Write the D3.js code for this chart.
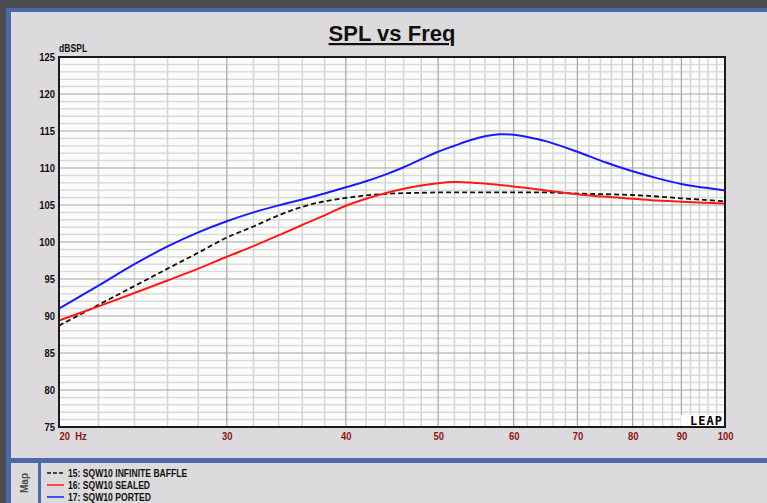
<!DOCTYPE html>
<html>
<head>
<meta charset="utf-8">
<script src="https://cdn.jsdelivr.net/npm/d3@7"></script>
<style>
  body { margin: 0; background: #dcdadd; }
  svg { display: block; font-family: Arial, "Liberation Sans", sans-serif; }
  .narrow { transform-box: fill-box; transform-origin: left center; transform: scaleX(0.86); }
  .narrow-end { transform-box: fill-box; transform-origin: right center; transform: scaleX(0.86); }
  .narrow-mid { transform-box: fill-box; transform-origin: center center; transform: scaleX(0.86); }
</style>
</head>
<body>
<script>
// chart data
const freqs = [20, 22, 24, 26, 28, 30, 32, 34, 36, 38, 40, 42, 44, 46, 48, 50, 52, 54, 56, 58, 60, 62, 65, 70, 75, 80, 85, 90, 95, 100];
const infiniteBaffle = [88.7, 91.5, 94.05, 96.4, 98.55, 100.6, 102.1, 103.6, 104.75, 105.5, 105.95, 106.3, 106.5, 106.6, 106.65, 106.7, 106.7, 106.7, 106.7, 106.7, 106.7, 106.7, 106.7, 106.55, 106.45, 106.35, 106.15, 105.9, 105.7, 105.5];
const sealed = [89.4, 91.3, 93.1, 94.8, 96.4, 98.0, 99.45, 100.9, 102.3, 103.6, 104.9, 105.85, 106.6, 107.2, 107.65, 107.95, 108.1, 108.05, 107.9, 107.7, 107.5, 107.3, 106.95, 106.45, 106.1, 105.85, 105.6, 105.45, 105.3, 105.2];
const ported = [91.0, 94.1, 97.0, 99.4, 101.3, 102.8, 104.0, 104.95, 105.75, 106.55, 107.4, 108.2, 109.1, 110.1, 111.2, 112.2, 113.0, 113.75, 114.3, 114.55, 114.5, 114.2, 113.6, 112.2, 110.75, 109.55, 108.6, 107.85, 107.35, 106.95];
const seriesNames = ["15: SQW10 INFINITE BAFFLE", "16: SQW10 SEALED", "17: SQW10 PORTED"];
const seriesColors = ["#111111", "#ff1a1a", "#1a1aff"];
const xTicks = [20, 30, 40, 50, 60, 70, 80, 90, 100];
const yTicks = [75, 80, 85, 90, 95, 100, 105, 110, 115, 120, 125];

let margin = null, width = null, height = null;
let root = null, svg = null;
let x = null, y = null;

// Main Process
setupCanvasSize();
appendSvg("body");
drawWindowFrame();
setupScales();
appendGrid();
appendAxes();
appendCurves();
appendLegend();

function setupCanvasSize() {
    margin = {top: 57, left: 59, bottom: 76, right: 42};
    width = 767 - margin.left - margin.right;
    height = 503 - margin.top - margin.bottom;
}

function appendSvg(domElement) {
    root = d3.select(domElement).append("svg")
        .attr("width", 767)
        .attr("height", 503);
}

// dark app chrome, blue dividers, title
function drawWindowFrame() {
    root.append("rect").attr("width", 767).attr("height", 503).attr("fill", "#dcdadd");
    root.append("rect").attr("width", 767).attr("height", 8).attr("fill", "#4b4b4d");
    root.append("rect").attr("width", 6).attr("height", 503).attr("fill", "#4b4b4d");
    root.append("rect").attr("x", 6).attr("y", 8).attr("width", 761).attr("height", 4).attr("fill", "#4a69a8");
    root.append("rect").attr("x", 6).attr("y", 8).attr("width", 5).attr("height", 495).attr("fill", "#4a69a8");
    root.append("rect").attr("x", 11).attr("y", 458).attr("width", 756).attr("height", 5).attr("fill", "#4a69a8");
    root.append("rect").attr("x", 38).attr("y", 463).attr("width", 3).attr("height", 40).attr("fill", "#4a69a8");

    root.append("text")
        .attr("x", 24).attr("y", 483)
        .attr("transform", "rotate(-90,24,483)")
        .attr("text-anchor", "middle")
        .attr("dy", "0.35em")
        .attr("font-size", 10)
        .attr("font-weight", "bold")
        .attr("fill", "#4a4a4a")
        .text("Map");

    root.append("text")
        .attr("x", 392).attr("y", 41)
        .attr("text-anchor", "middle")
        .attr("font-size", 22)
        .attr("font-weight", "bold")
        .attr("text-decoration", "underline")
        .attr("fill", "#111")
        .text("SPL vs Freq");

    svg = root.append("g")
        .attr("transform", `translate(${margin.left}, ${margin.top})`);
}

function setupScales() {
    x = d3.scaleLog().domain([20, 100]).range([0, width]);
    y = d3.scaleLinear().domain([75, 125]).range([height, 0]);
}

function appendGrid() {
    svg.append("rect")
        .attr("width", width).attr("height", height)
        .attr("fill", "#fcfdfa");

    const vLines = d3.range(20, 101, 2);
    const hLines = d3.range(75, 126, 1);

    // minor lines first, major on top
    svg.append("g").selectAll("line").data(hLines.filter(d => d % 5 !== 0)).join("line")
        .attr("x1", 0).attr("x2", width)
        .attr("y1", d => y(d)).attr("y2", d => y(d))
        .attr("stroke", "#d9dbd9").attr("stroke-width", 1.5);
    svg.append("g").selectAll("line").data(vLines.filter(d => d % 10 !== 0)).join("line")
        .attr("x1", d => x(d)).attr("x2", d => x(d))
        .attr("y1", 0).attr("y2", height)
        .attr("stroke", "#d4d6d4").attr("stroke-width", 1.5);
    svg.append("g").selectAll("line").data(hLines.filter(d => d % 5 === 0)).join("line")
        .attr("x1", 0).attr("x2", width)
        .attr("y1", d => y(d)).attr("y2", d => y(d))
        .attr("stroke", "#a4a6a4").attr("stroke-width", 1.2);
    svg.append("g").selectAll("line").data(vLines.filter(d => d % 10 === 0)).join("line")
        .attr("x1", d => x(d)).attr("x2", d => x(d))
        .attr("y1", 0).attr("y2", height)
        .attr("stroke", "#a4a6a4").attr("stroke-width", 1.2);
}

function appendAxes() {
    const yAxis = svg.append("g")
        .call(d3.axisLeft(y).tickValues(yTicks).tickSize(0).tickPadding(4));
    yAxis.select(".domain").remove();
    yAxis.selectAll("text")
        .attr("font-size", 11).attr("font-weight", "bold")
        .attr("font-family", "Arial, 'Liberation Sans', sans-serif")
        .attr("fill", "#111")
        .attr("class", "narrow-end");

    const xAxis = svg.append("g")
        .attr("transform", `translate(0, ${height})`)
        .call(d3.axisBottom(x).tickValues(xTicks)
            .tickFormat(d => d === 20 ? "20  Hz" : d)
            .tickSize(0).tickPadding(5));
    xAxis.select(".domain").remove();
    xAxis.selectAll("text")
        .attr("font-size", 11).attr("font-weight", "bold")
        .attr("font-family", "Arial, 'Liberation Sans', sans-serif")
        .attr("fill", "#8c1414")
        .style("white-space", "pre")
        .attr("class", d => d === 20 ? "narrow" : "narrow-mid")
        .attr("text-anchor", d => d === 20 ? "start" : "middle");

    svg.append("text")
        .attr("x", 0).attr("y", -5)
        .attr("font-size", 10).attr("font-weight", "bold")
        .attr("fill", "#111")
        .attr("class", "narrow")
        .text("dBSPL");
}

function appendCurves() {
    const line = d3.line()
        .x((d, i) => x(freqs[i]))
        .y(d => y(d))
        .curve(d3.curveCatmullRom.alpha(0.5));

    // LEAP badge sits under the curves in the bottom right corner
    svg.append("rect")
        .attr("x", width - 44).attr("y", height - 12)
        .attr("width", 44).attr("height", 12)
        .attr("fill", "#ffffff");
    svg.append("text")
        .attr("x", width - 2).attr("y", height - 2)
        .attr("text-anchor", "end")
        .attr("font-family", "'DejaVu Sans Mono', monospace")
        .attr("font-size", 12).attr("font-weight", "bold")
        .attr("letter-spacing", 1)
        .attr("fill", "#000")
        .text("LEAP");

    const curves = [infiniteBaffle, sealed, ported];
    curves.forEach((vals, k) => {
        svg.append("path")
            .datum(vals)
            .attr("d", line)
            .attr("fill", "none")
            .attr("stroke", seriesColors[k])
            .attr("stroke-width", k === 0 ? 1.8 : 2)
            .attr("stroke-dasharray", k === 0 ? "5,3" : null);
    });

    svg.append("rect")
        .attr("width", width).attr("height", height)
        .attr("fill", "none")
        .attr("stroke", "#1a1a1a")
        .attr("stroke-width", 2);
}

function appendLegend() {
    const legend = root.append("g").attr("transform", "translate(47, 473)");
    const rows = legend.selectAll("g").data(seriesNames).join("g")
        .attr("transform", (d, i) => `translate(0, ${i * 12})`);
    rows.append("line")
        .attr("x1", 0).attr("x2", 17)
        .attr("stroke", (d, i) => seriesColors[i])
        .attr("stroke-width", 1.5)
        .attr("stroke-dasharray", (d, i) => i === 0 ? "4,2" : null);
    rows.append("text")
        .attr("x", 21).attr("y", 4)
        .attr("font-size", 10).attr("font-weight", "bold")
        .attr("fill", "#111")
        .attr("class", "narrow")
        .text(d => d);
}
</script>
</body>
</html>
